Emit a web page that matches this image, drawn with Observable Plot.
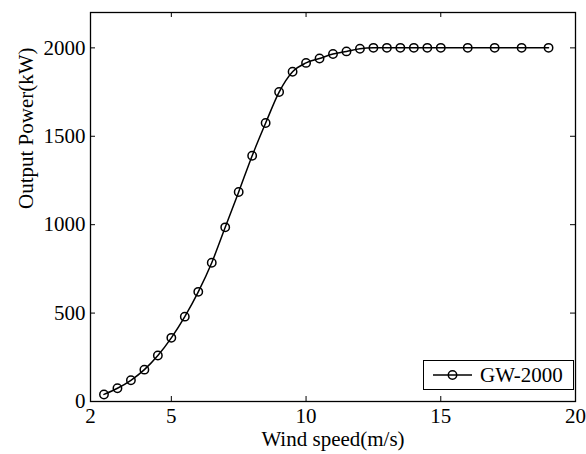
<!DOCTYPE html>
<html>
<head>
<meta charset="utf-8">
<script src="https://cdn.jsdelivr.net/npm/d3@7"></script>
<script src="https://cdn.jsdelivr.net/npm/@observablehq/plot@0.6"></script>
<style>
  html, body { margin: 0; padding: 0; background: white; }
  #wrap { position: relative; width: 586px; height: 454px; font-family: "Liberation Serif", "Times New Roman", serif; }
  #legend {
    position: absolute; left: 423px; top: 360px; width: 149px; height: 28px;
    border: 1.3px solid black; background: white;
    font-family: "Liberation Serif", "Times New Roman", serif; font-size: 21px;
    display: flex; align-items: center;
  }
  #legend svg { display: block; }
</style>
</head>
<body>
<div id="wrap"><div id="legend"></div></div>
<script>
const seriesName = "GW-2000";
const windSpeed = [2.5, 3, 3.5, 4, 4.5, 5, 5.5, 6, 6.5, 7, 7.5, 8, 8.5, 9, 9.5, 10, 10.5, 11, 11.5, 12, 12.5, 13, 13.5, 14, 14.5, 15, 16, 17, 18, 19];
const outputPower = [40, 75, 120, 180, 260, 360, 480, 620, 785, 985, 1185, 1390, 1575, 1750, 1865, 1915, 1940, 1965, 1980, 1995, 2000, 2000, 2000, 2000, 2000, 2000, 2000, 2000, 2000, 2000];
const xTicks = [2, 5, 10, 15, 20];
const yTicks = [0, 500, 1000, 1500, 2000];
const xLabel = "Wind speed(m/s)";
const yLabel = "Output Power(kW)";

const data = windSpeed.map((w, i) => ({w, p: outputPower[i]}));

const serif = "'Liberation Serif', 'Times New Roman', serif";
const W = 586, H = 454, mL = 90, mR = 11, mT = 12, mB = 53;
const fw = W - mL - mR, fh = H - mT - mB, tk = 5;

const chart = Plot.plot({
  width: W, height: H,
  marginLeft: mL, marginRight: mR, marginTop: mT, marginBottom: mB,
  style: {fontFamily: serif, fontSize: "21px", background: "white", color: "black"},
  x: {domain: [2, 20]},
  y: {domain: [0, 2200]},
  marks: [
    Plot.axisX(xTicks, {tickSize: 0, tickPadding: 7, fontSize: 21, fontFamily: serif, tickFormat: d3.format("d"), label: null, fill: "black"}),
    Plot.axisY(yTicks, {tickSize: 0, tickPadding: 5, fontSize: 21, fontFamily: serif, tickFormat: d3.format("d"), label: null, fill: "black"}),
    Plot.tickX(xTicks.slice(1, -1), {x: d => d, insetTop: fh - tk, stroke: "black", strokeWidth: 1}),
    Plot.tickX(xTicks.slice(1, -1), {x: d => d, insetBottom: fh - tk, stroke: "black", strokeWidth: 1}),
    Plot.tickY(yTicks.slice(1), {y: d => d, insetRight: fw - tk, stroke: "black", strokeWidth: 1}),
    Plot.tickY(yTicks.slice(1), {y: d => d, insetLeft: fw - tk, stroke: "black", strokeWidth: 1}),
    Plot.line(data, {x: "w", y: "p", curve: "monotone-x", stroke: "black", strokeWidth: 1.5}),
    Plot.dot(data, {x: "w", y: "p", r: 4.2, stroke: "black", strokeWidth: 1.5, fill: "none"}),
    Plot.frame({stroke: "black", strokeWidth: 1.3}),
    Plot.text([xLabel], {frameAnchor: "bottom", lineAnchor: "middle", dy: 38, fontSize: 21, fontFamily: serif, fill: "black"}),
    Plot.text([yLabel], {frameAnchor: "left", rotate: -90, dx: -64, dy: 2, fontSize: 21, fontFamily: serif, fill: "black"})
  ]
});
document.getElementById("wrap").prepend(chart);

const legend = document.getElementById("legend");
legend.innerHTML = `<svg width="52" height="20" style="margin-left:8px">
  <line x1="1" y1="10" x2="40" y2="10" stroke="black" stroke-width="1.5"></line>
  <circle cx="20.5" cy="10" r="4.2" fill="none" stroke="black" stroke-width="1.5"></circle>
</svg><span style="margin-left:-4px">${seriesName}</span>`;
</script>
</body>
</html>
